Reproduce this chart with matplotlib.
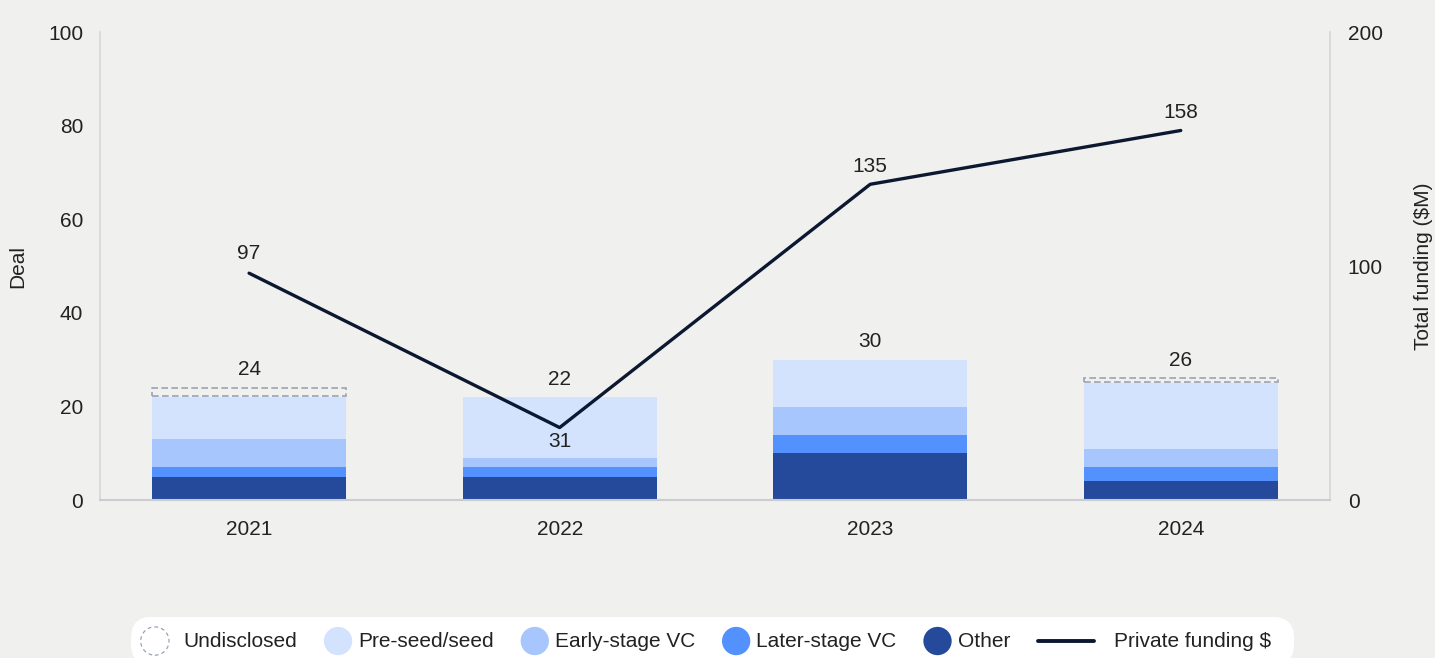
import numpy as np
import matplotlib.pyplot as plt
from matplotlib.lines import Line2D
from matplotlib.patches import Circle
from matplotlib.offsetbox import DrawingArea, TextArea, HPacker, AnchoredOffsetbox

plt.rcParams["font.family"] = ["Liberation Sans", "DejaVu Sans"]

years = ["2021", "2022", "2023", "2024"]
other = [5, 5, 10, 4]
later_vc = [2, 2, 4, 3]
early_vc = [6, 2, 6, 4]
preseed = [9, 13, 10, 14]
undisclosed = [2, 0, 0, 1]
deal_totals = [24, 22, 30, 26]
funding = [97, 31, 135, 158]

BG = "#f0f0ee"
TEXT = "#222222"
C_OTHER = "#254a9b"
C_LATER = "#5291fe"
C_EARLY = "#a7c6fd"
C_SEED = "#d4e3fd"
C_UNDISC = "#9aa3b5"
C_LINE = "#0b1830"
AXIS_GRAY = "#d4d6d8"
FS = 15

fig = plt.figure(figsize=(14.35, 6.58), dpi=100)
fig.patch.set_facecolor(BG)
ax = fig.add_axes([0.0697, 0.240, 0.8570, 0.711])
ax.set_facecolor(BG)

x = np.arange(len(years))
w = 0.625

# stacked deal counts
bottom = np.zeros(len(years))
for vals, col in [(other, C_OTHER), (later_vc, C_LATER), (early_vc, C_EARLY), (preseed, C_SEED)]:
    ax.bar(x, vals, w, bottom=bottom, color=col, edgecolor="none", zorder=2)
    bottom += np.array(vals)

# undisclosed deals as dashed outline
for xi, b, u in zip(x, bottom, undisclosed):
    if u > 0:
        ax.bar(xi, u - 0.15, w, bottom=b + 0.15, facecolor="none", edgecolor=C_UNDISC,
               linestyle=(0, (4, 2)), linewidth=1.2, zorder=2)

for xi, t in zip(x, deal_totals):
    ax.annotate(str(t), (xi, t), xytext=(0, 13), textcoords="offset points",
                ha="center", va="center", fontsize=FS, color=TEXT)

ax.set_xlim(-0.48, 3.48)
ax.set_ylim(0, 100)
ax.set_yticks([0, 20, 40, 60, 80, 100])
ax.set_xticks(x)
ax.set_xticklabels(years)
ax.tick_params(axis="y", length=0, pad=12, labelsize=FS, colors=TEXT)
ax.tick_params(axis="x", length=0, pad=14, labelsize=FS, colors=TEXT)
ax.set_ylabel("Deal", fontsize=FS, color=TEXT, labelpad=15)

ax.spines["top"].set_visible(False)
for s in ["left", "right"]:
    ax.spines[s].set_color(AXIS_GRAY)
    ax.spines[s].set_linewidth(1.2)
ax.spines["bottom"].set_color("#c9ccd0")
ax.spines["bottom"].set_linewidth(1.5)

# funding line on secondary axis
ax2 = ax.twinx()
ax2.set_ylim(0, 200)
ax2.set_yticks([0, 100, 200])
ax2.plot(x, funding, color=C_LINE, linewidth=2.4, zorder=3, solid_capstyle="round")
offsets = [14, -10, 13, 13]
for xi, v, off in zip(x, funding, offsets):
    ax2.annotate(str(v), (xi, v), xytext=(0, off), textcoords="offset points",
                 ha="center", va="center", fontsize=FS, color=TEXT)
ax2.tick_params(axis="y", length=0, pad=13, labelsize=FS, colors=TEXT)
ax2.set_ylabel("Total funding ($M)", fontsize=FS, color=TEXT, labelpad=22)
for s in ["top", "bottom", "left", "right"]:
    ax2.spines[s].set_visible(False)


def circle_handle(face, edge="none", dashed=False):
    da = DrawingArea(21, 21, 0, 0)
    da.add_artist(Circle((10.5, 10.5), 10.2, facecolor=face, edgecolor=edge,
                         linestyle=(0, (3, 2.5)) if dashed else "-", linewidth=0.9))
    return da


def line_handle():
    da = DrawingArea(43, 21, 0, 0)
    da.add_artist(Line2D([1.5, 41.5], [10.5, 10.5], color=C_LINE, linewidth=2.8,
                         solid_capstyle="round"))
    return da


def label_box(s):
    return TextArea(s, textprops=dict(fontsize=FS, color=TEXT))


entries = [
    (circle_handle("none", C_UNDISC, dashed=True), "Undisclosed", 10),
    (circle_handle(C_SEED), "Pre-seed/seed", 4),
    (circle_handle(C_EARLY), "Early-stage VC", 4),
    (circle_handle(C_LATER), "Later-stage VC", 4),
    (circle_handle(C_OTHER), "Other", 4),
    (line_handle(), "Private funding $", 13),
]
items = [HPacker(children=[h, label_box(s)], sep=sep, pad=0, align="center")
         for h, s, sep in entries]
row = HPacker(children=items, sep=19, pad=0, align="center")
row = HPacker(children=[row, DrawingArea(9, 21)], sep=0, pad=0, align="center")
legend_box = AnchoredOffsetbox(loc="center", child=row, pad=0.7, frameon=True,
                               borderpad=0, bbox_to_anchor=(0.4962, 0.0258),
                               bbox_transform=fig.transFigure)
legend_box.patch.set_boxstyle("round,pad=0,rounding_size=1.5")
legend_box.patch.set_facecolor("white")
legend_box.patch.set_edgecolor("none")
fig.add_artist(legend_box)

fig.savefig("out.png", dpi=100, facecolor=BG)
